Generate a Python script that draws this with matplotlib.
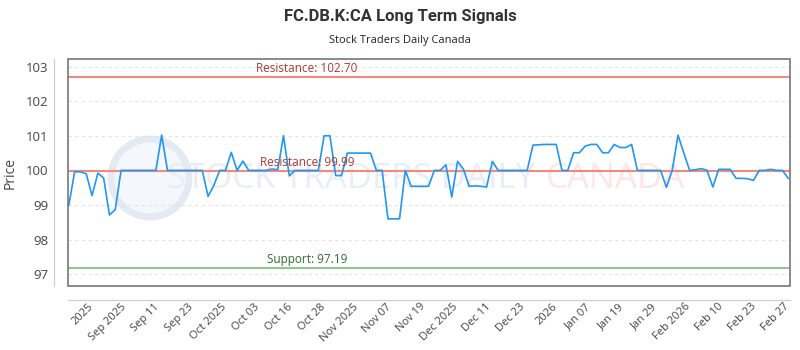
import numpy as np
import matplotlib
matplotlib.use("Agg")
import matplotlib.pyplot as plt
from matplotlib.patches import Rectangle, Ellipse
import matplotlib.transforms as mtransforms

# price series (one value per trading day)
prices = [
    99.00, 99.96, 99.96, 99.90, 99.27, 99.92, 99.78, 98.71, 98.87, 100.00,
    100.00, 100.00, 100.00, 100.00, 100.00, 100.00, 101.02, 100.00, 100.00, 100.00,
    100.00, 100.00, 100.00, 100.00, 99.25, 99.57, 100.00, 100.00, 100.52, 100.00,
    100.27, 100.00, 100.00, 100.00, 100.00, 100.04, 100.02, 101.00, 99.84, 100.00,
    100.00, 100.00, 100.00, 100.00, 101.00, 101.00, 99.85, 99.85, 100.50, 100.50,
    100.50, 100.50, 100.50, 100.00, 100.00, 98.60, 98.60, 98.60, 100.00, 99.54,
    99.54, 99.54, 99.54, 100.00, 100.00, 100.16, 99.23, 100.26, 100.04, 99.54,
    99.55, 99.54, 99.52, 100.26, 100.00, 100.00, 100.00, 100.00, 100.00, 100.00,
    100.73, 100.74, 100.75, 100.75, 100.75, 100.00, 100.00, 100.51, 100.51, 100.70,
    100.75, 100.75, 100.51, 100.51, 100.75, 100.66, 100.66, 100.75, 100.00, 100.00,
    100.00, 100.00, 100.00, 99.51, 100.00, 101.02, 100.50, 100.00, 100.02, 100.05,
    100.00, 99.52, 100.03, 100.03, 100.03, 99.77, 99.77, 99.76, 99.71, 100.00,
    100.00, 100.03, 100.00, 100.00, 99.77,
]

tick_labels = ["2025", "Sep 2025", "Sep 11", "Sep 23", "Oct 2025", "Oct 03", "Oct 16",
               "Oct 28", "Nov 2025", "Nov 07", "Nov 19", "Dec 2025", "Dec 11", "Dec 23",
               "2026", "Jan 07", "Jan 19", "Jan 29", "Feb 2026", "Feb 10", "Feb 23", "Feb 27"]

resistance_hi = 102.70
resistance_lo = 99.99
support = 97.19

plt.rcParams['font.family'] = ['Open Sans', 'DejaVu Sans']

fig = plt.figure(figsize=(8, 3.5), dpi=100)
ax = fig.add_axes([0.0846, 0.1829, 0.9029, 0.6477])

# offset axis lines (set first: moving a spine resets the ticks)
for side in ['top', 'right']:
    ax.spines[side].set_visible(False)
ax.spines['left'].set_position(('outward', 10))
ax.spines['bottom'].set_position(('outward', 10))
ax.spines['left'].set_color('#cccccc')
ax.spines['bottom'].set_color('#cccccc')

x = np.arange(len(prices))

# watermark
logo = Ellipse((150 / 800, 1 - 178 / 350), 78 / 800, 78 / 350, transform=fig.transFigure,
               facecolor='#f4f7fb', edgecolor='#e3eaf4', linewidth=5, zorder=0.5)
ax.add_patch(logo)
ax.text(0.647, 0.47, "STOCK TRADERS DAILY", transform=ax.transAxes, fontsize=25,
        color='#e9eef6', va='center', ha='right', zorder=0.6)
ax.text(0.662, 0.47, "CANADA", transform=ax.transAxes, fontsize=25,
        color='#fde6e6', va='center', ha='left', zorder=0.6)

ax.axhline(resistance_hi, color='#f08a80', linewidth=1.5, zorder=2)
ax.axhline(resistance_lo, color='#f08a80', linewidth=1.5, zorder=2)
ax.axhline(support, color='#8fc78f', linewidth=1.5, zorder=2)

ax.plot(x, prices, color='#2196f3', linewidth=1.2, zorder=3)

trans = mtransforms.blended_transform_factory(ax.transAxes, ax.transData)
ax.text(0.331, resistance_hi + 0.05, f"Resistance: {resistance_hi:.2f}", transform=trans,
        ha='center', va='bottom', fontsize=8.5, color='#b03a32', zorder=4)
ax.text(0.331, resistance_lo + 0.05, f"Resistance: {resistance_lo:.2f}", transform=trans,
        ha='center', va='bottom', fontsize=8.5, color='#b03a32', zorder=4)
ax.text(0.331, support + 0.05, f"Support: {support:.2f}", transform=trans,
        ha='center', va='bottom', fontsize=8.5, color='#2f6b2f', zorder=4)

ax.set_xlim(-0.2, len(prices) - 0.7)
ax.set_ylim(96.66, 103.21)
ax.set_yticks(np.arange(97, 104, 1))
ax.grid(axis='y', color='#e3e3e3', linestyle=(0, (3, 3)), linewidth=0.8)
ax.set_axisbelow(True)

ax.set_xticks(np.linspace(3.3, 123.3, len(tick_labels)))
ax.set_xticklabels(tick_labels, rotation=45, ha='right', rotation_mode='anchor')
ax.tick_params(axis='x', length=0, pad=1, labelsize=8, labelcolor='#444444')
ax.tick_params(axis='y', length=0, pad=4, labelsize=9.5, labelcolor='#444444')

ax.add_patch(Rectangle((0, 0), 1, 1, transform=ax.transAxes, fill=False,
                       edgecolor='#777777', linewidth=1.2, clip_on=False, zorder=5))

ax.set_ylabel("Price", fontsize=10, color='#444444', labelpad=6)

fig.text(0.5, 1 - 16 / 350, "FC.DB.K:CA Long Term Signals", ha='center', va='center',
         fontsize=12, fontweight='bold', color='#333333', family=['Roboto', 'DejaVu Sans'])
fig.text(0.5, 1 - 41 / 350, "Stock Traders Daily Canada", ha='center', va='center',
         fontsize=8, color='#222222')

fig.savefig("out.png", dpi=100)
